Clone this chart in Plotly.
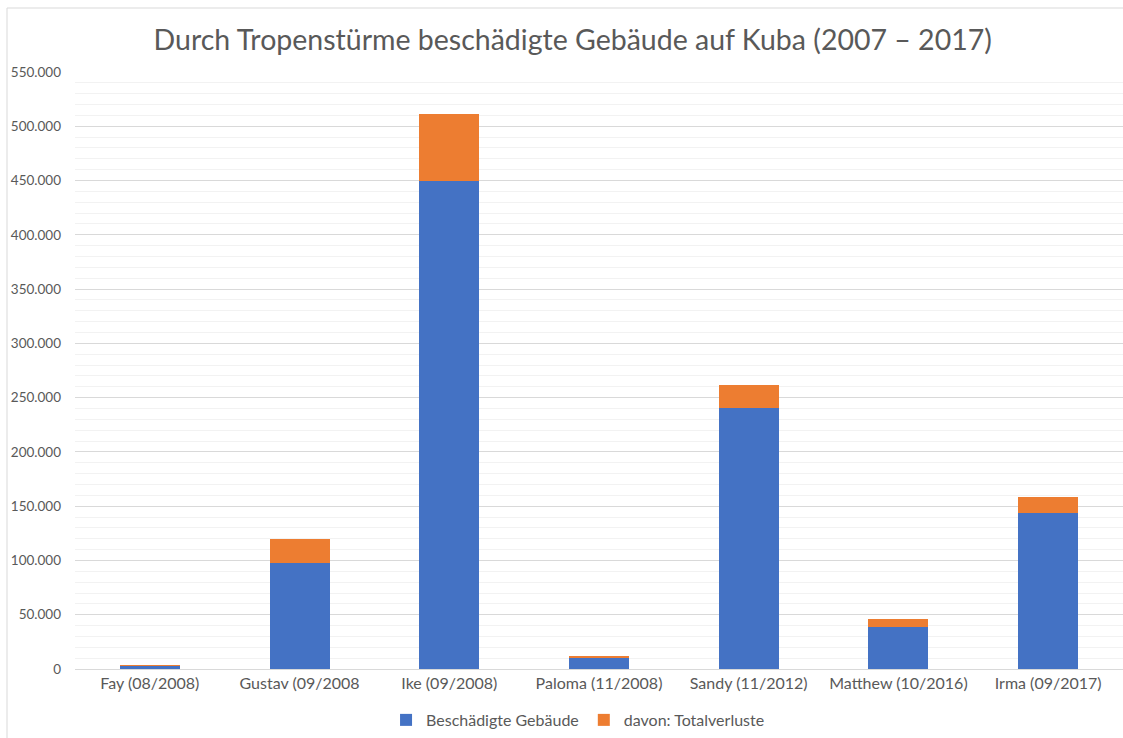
import plotly.graph_objects as go

categories = ["Fay (08/2008)", "Gustav (09/2008", "Ike (09/2008)", "Paloma (11/2008)",
              "Sandy (11/2012)", "Matthew (10/2016)", "Irma (09/2017)"]
beschaedigt = [3200, 97600, 449600, 10800, 240200, 38400, 143700]
totalverluste = [300, 22200, 61400, 1200, 21700, 7600, 14500]
series_names = ["Beschädigte Gebäude", "davon: Totalverluste"]
y_ticks = list(range(0, 550001, 50000))

FONT = "Lato"
GREY = "#595959"

fig = go.Figure()
fig.add_trace(go.Bar(x=categories, y=beschaedigt, name=series_names[0],
                     marker=dict(color="#4472C4", line=dict(width=0))))
fig.add_trace(go.Bar(x=categories, y=totalverluste, name=series_names[1],
                     marker=dict(color="#ED7D31", line=dict(width=0))))

fig.update_layout(
    width=1123, height=738,
    barmode="stack", bargap=0.6,
    separators=",.",
    paper_bgcolor="white", plot_bgcolor="white",
    margin=dict(l=75, r=0, t=72, b=69),
    font=dict(family=FONT, color=GREY),
    title=dict(text="Durch Tropenstürme beschädigte Gebäude auf Kuba (2007 – 2017)",
               x=0.51, xanchor="center", y=1 - 40 / 738, yanchor="middle",
               font=dict(family=FONT, size=28.5, color=GREY)),
    legend=dict(orientation="h", x=0.48, xanchor="center", y=-0.0854, yanchor="middle",
                font=dict(family=FONT, size=16, color=GREY), traceorder="normal",
                itemwidth=30),
    showlegend=True,
)
fig.update_yaxes(range=[0, 550000], tickvals=y_ticks, tickformat=",d",
                 showgrid=True, gridcolor="#d9d9d9", gridwidth=1,
                 minor=dict(dtick=10000, showgrid=True, gridcolor="#f2f2f2", gridwidth=1),
                 zeroline=False, showline=False, ticks="",
                 ticklabelstandoff=13,
                 tickfont=dict(family=FONT, size=13.5, color=GREY))
fig.update_xaxes(showline=True, linecolor="#d9d9d9", linewidth=1, ticks="",
                 tickfont=dict(family=FONT, size=16, color=GREY))

fig.add_shape(type="rect", xref="paper", yref="paper",
              x0=(7 - 75) / 1048, x1=1.2, y0=-0.3, y1=(669 - 8) / 597,
              line=dict(color="#d9d9d9", width=1), fillcolor="rgba(0,0,0,0)", layer="below")

fig.write_html("out.html", config={"displayModeBar": False},
               post_script="document.body.style.margin='0';document.body.style.overflow='hidden';")
